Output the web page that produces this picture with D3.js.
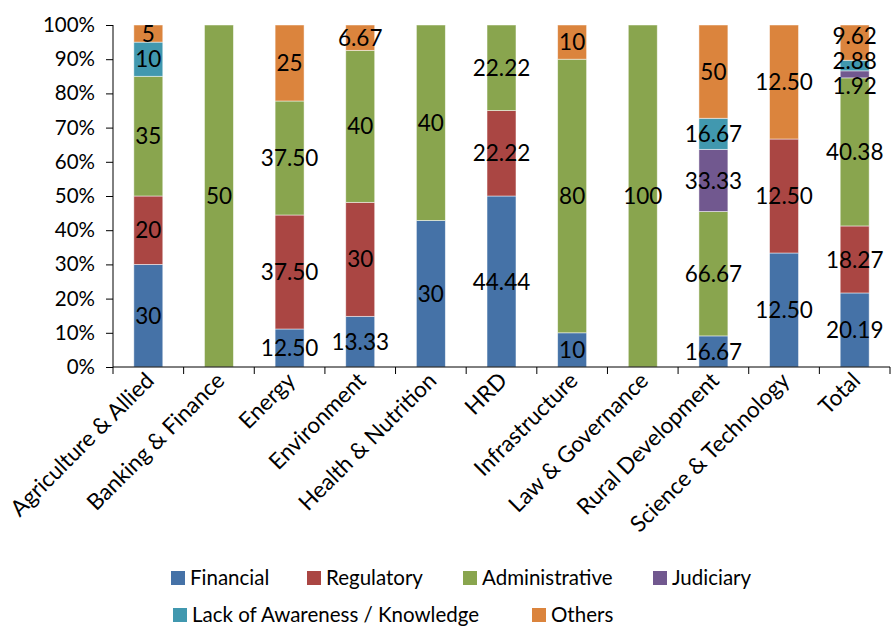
<!DOCTYPE html>
<html>
<head>
<meta charset="utf-8">
<script src="https://cdn.jsdelivr.net/npm/d3@7"></script>
<style>
  html, body { margin: 0; padding: 0; background: #fff; }
  svg { display: block; font-family: Lato, "Open Sans", sans-serif; }
</style>
</head>
<body>
<div id="chart"></div>
<script>
const categories = ["Agriculture & Allied", "Banking & Finance", "Energy", "Environment", "Health & Nutrition", "HRD", "Infrastructure", "Law & Governance", "Rural Development", "Science & Technology", "Total"];
const seriesNames = ["Financial", "Regulatory", "Administrative", "Judiciary", "Lack of Awareness / Knowledge", "Others"];
const financial      = [30, 0, 12.50, 13.33, 30, 44.44, 10, 0, 16.67, 12.50, 20.19];
const regulatory     = [20, 0, 37.50, 30, 0, 22.22, 0, 0, 0, 12.50, 18.27];
const administrative = [35, 50, 37.50, 40, 40, 22.22, 80, 100, 66.67, 0, 40.38];
const judiciary      = [0, 0, 0, 0, 0, 0, 0, 0, 33.33, 0, 1.92];
const lackAwareness  = [10, 0, 0, 0, 0, 0, 0, 0, 16.67, 0, 2.88];
const others         = [5, 0, 25, 6.67, 0, 0, 10, 0, 50, 12.50, 9.62];
const yTicks = [0, 0.1, 0.2, 0.3, 0.4, 0.5, 0.6, 0.7, 0.8, 0.9, 1.0];
const colors = ["#4572A7", "#AA4643", "#89A54E", "#71588F", "#4198AF", "#DB843D"];

const seriesValues = [financial, regulatory, administrative, judiciary, lackAwareness, others];

const W = 891, H = 626;
const margin = {left: 113, right: 1, top: 25, bottom: 259};
const svg = d3.select("#chart").append("svg").attr("width", W).attr("height", H);

const x = d3.scaleBand().domain(categories)
  .range([margin.left, W - margin.right])
  .paddingInner(0.59).paddingOuter(0.295);
const y = d3.scaleLinear().domain([0, 1]).range([H - margin.bottom, margin.top]);

// table of rows, normalised to 100%
const rows = categories.map((c, i) => {
  const r = {category: c};
  let total = 0;
  seriesNames.forEach((s, k) => { r[s] = seriesValues[k][i]; total += seriesValues[k][i]; });
  r.total = total;
  return r;
});
const stack = d3.stack().keys(seriesNames)
  .value((d, key) => d[key] / d.total);
const stacked = stack(rows);

// bars
const layers = svg.append("g").selectAll("g").data(stacked).join("g")
  .attr("fill", (d, i) => colors[i]);
layers.selectAll("rect").data(d => d.filter(s => s[1] - s[0] > 0)).join("rect")
  .attr("x", d => x(d.data.category))
  .attr("width", x.bandwidth())
  .attr("y", d => y(d[1]))
  .attr("height", d => y(d[0]) - y(d[1]))
  .attr("stroke", "#ffffff").attr("stroke-opacity", 0.6).attr("stroke-width", 0.8);

// y axis
const yAxis = svg.append("g").attr("transform", `translate(${margin.left},0)`)
  .call(d3.axisLeft(y).tickValues(yTicks).tickFormat(d3.format(".0%")).tickSize(7).tickPadding(11));
yAxis.selectAll("text").attr("font-size", 20.5).attr("fill", "#000").attr("font-family", "Lato");
yAxis.selectAll("line").attr("stroke", "#000");
yAxis.select(".domain").attr("stroke", "#000").attr("d", `M0,${y(0)}V${y(1)}`);

// x axis: line + boundary ticks
const xg = svg.append("g");
const y0 = y(0);
xg.append("line").attr("x1", margin.left).attr("x2", W - margin.right)
  .attr("y1", y0).attr("y2", y0).attr("stroke", "#000");
const step = x.step();
const boundaries = categories.map((c, i) => margin.left + i * step).concat([W - margin.right]);
xg.selectAll("line.tk").data(boundaries).join("line").attr("class", "tk")
  .attr("x1", d => d).attr("x2", d => d).attr("y1", y0).attr("y2", y0 + 7).attr("stroke", "#000");
xg.selectAll("text").data(categories).join("text")
  .attr("transform", d => `translate(${x(d) + x.bandwidth() / 2 + 7},${y0 + 15}) rotate(-45)`)
  .attr("text-anchor", "end").attr("font-size", 22.5).attr("fill", "#000")
  .text(d => d);

// data labels, centred in segments with simple collision avoidance
const fmt = v => Number.isInteger(v) ? String(v) : v.toFixed(2);
const labelData = [];
categories.forEach((c, i) => {
  const items = [];
  stacked.forEach((layer, k) => {
    const s = layer[i];
    if (s[1] - s[0] > 0) items.push({cx: x(c) + x.bandwidth() / 2, cy: (y(s[0]) + y(s[1])) / 2, text: fmt(seriesValues[k][i])});
  });
  const minGap = 25;
  for (let it = 0; it < 100; it++) {
    for (let j = 0; j < items.length - 1; j++) {
      const a = items[j], b = items[j + 1];
      const gap = a.cy - b.cy;
      if (gap < minGap) { const p = (minGap - gap) / 2; a.cy += p; b.cy -= p; }
    }
  }
  labelData.push(...items);
});
svg.append("g").selectAll("text").data(labelData).join("text")
  .attr("x", d => d.cx).attr("y", d => d.cy).attr("dy", "0.36em")
  .attr("text-anchor", "middle").attr("font-size", 22.5).attr("fill", "#000")
  .text(d => d.text);

// legend
const legendPos = [[171, 578], [307, 578], [463, 578], [653, 578], [173, 615], [532, 615]];
const lg = svg.append("g").selectAll("g").data(seriesNames).join("g")
  .attr("transform", (d, i) => `translate(${legendPos[i][0]},${legendPos[i][1]})`);
lg.append("rect").attr("x", 0).attr("y", -7).attr("width", 14).attr("height", 14)
  .attr("fill", (d, i) => colors[i]);
lg.append("text").attr("x", 19).attr("y", 0).attr("dy", "0.36em")
  .attr("font-size", 20.5).attr("fill", "#000").text(d => d);
</script>
</body>
</html>
